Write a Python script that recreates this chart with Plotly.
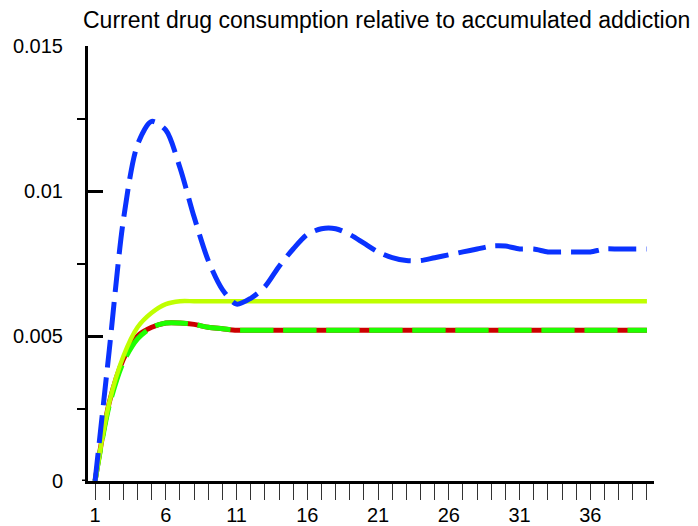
import plotly.graph_objects as go

periods = list(range(1, 41))

blue_series = [0.0, 0.0045, 0.0090, 0.0116, 0.0124, 0.0121, 0.0108, 0.0091, 0.0076, 0.0066,
               0.0061, 0.0063, 0.0067, 0.0074, 0.0080, 0.0085, 0.0087, 0.0087, 0.0085, 0.0082,
               0.0079, 0.0077, 0.0076, 0.0076, 0.0077, 0.0078, 0.0079, 0.0080, 0.0081, 0.0081,
               0.0080, 0.0080, 0.0079, 0.0079, 0.0079, 0.0079, 0.0080, 0.0080, 0.0080, 0.0080]

yellow_series = [0.0, 0.0027, 0.0043, 0.0053, 0.0058, 0.0061, 0.0062, 0.0062, 0.0062, 0.0062,
                 0.0062, 0.0062, 0.0062, 0.0062, 0.0062, 0.0062, 0.0062, 0.0062, 0.0062, 0.0062,
                 0.0062, 0.0062, 0.0062, 0.0062, 0.0062, 0.0062, 0.0062, 0.0062, 0.0062, 0.0062,
                 0.0062, 0.0062, 0.0062, 0.0062, 0.0062, 0.0062, 0.0062, 0.0062, 0.0062, 0.0062]

red_series = [0.0, 0.0027, 0.0042, 0.0050, 0.0053, 0.00545, 0.00545, 0.0054, 0.0053, 0.00525,
              0.0052, 0.0052, 0.0052, 0.0052, 0.0052, 0.0052, 0.0052, 0.0052, 0.0052, 0.0052,
              0.0052, 0.0052, 0.0052, 0.0052, 0.0052, 0.0052, 0.0052, 0.0052, 0.0052, 0.0052,
              0.0052, 0.0052, 0.0052, 0.0052, 0.0052, 0.0052, 0.0052, 0.0052, 0.0052, 0.0052]

green_series = [0.0, 0.0026, 0.0041, 0.0049, 0.0053, 0.00545, 0.00545, 0.0054, 0.0053, 0.00525,
                0.0052, 0.0052, 0.0052, 0.0052, 0.0052, 0.0052, 0.0052, 0.0052, 0.0052, 0.0052,
                0.0052, 0.0052, 0.0052, 0.0052, 0.0052, 0.0052, 0.0052, 0.0052, 0.0052, 0.0052,
                0.0052, 0.0052, 0.0052, 0.0052, 0.0052, 0.0052, 0.0052, 0.0052, 0.0052, 0.0052]

x_tick_text = [str(p) if (p - 1) % 5 == 0 else "" for p in periods]
y_tick_vals = [0, 0.005, 0.01, 0.015]
y_tick_text = ["0", "0.005", "0.01", "0.015"]

title_text = "Current drug consumption relative to accumulated addiction"

FONT = "Liberation Sans, Arial, sans-serif"

W, H = 698, 526

fig = go.Figure()
fig.add_trace(go.Scatter(x=periods, y=red_series, mode="lines",
                         line=dict(color="#CC0000", width=5, shape="spline", smoothing=0.8)))
fig.add_trace(go.Scatter(x=periods, y=green_series, mode="lines",
                         line=dict(color="#1EFF00", width=5, dash="33px,10px", shape="spline", smoothing=0.8)))
fig.add_trace(go.Scatter(x=periods, y=yellow_series, mode="lines",
                         line=dict(color="#BFFF00", width=4.5, shape="spline", smoothing=0.8)))
fig.add_trace(go.Scatter(x=periods, y=blue_series, mode="lines",
                         line=dict(color="#0A32FF", width=5, dash="28px,10px", shape="spline", smoothing=0.8)))

fig.update_layout(
    width=W, height=H,
    margin=dict(l=88, r=44, t=46, b=45, autoexpand=False),
    paper_bgcolor="white", plot_bgcolor="white",
    showlegend=False,
    font=dict(family=FONT, size=20, color="black"),
    title=dict(text=title_text, x=83 / W, xanchor="left", xref="container",
               y=1 - 20 / H, yanchor="middle", yref="container",
               pad=dict(l=0, r=0, t=0, b=0), automargin=False,
               font=dict(family=FONT, size=23, color="black")),
)

fig.update_xaxes(
    range=[0.5, 40.5], showgrid=False, zeroline=False, automargin=False,
    showline=True, linecolor="black", linewidth=3,
    tickmode="array", tickvals=periods, ticktext=x_tick_text,
    ticks="outside", ticklen=16, tickwidth=1, tickcolor="#333333",
    ticklabelstandoff=-2,
    tickfont=dict(family=FONT, size=20, color="black"),
)

fig.update_yaxes(
    range=[0, 0.015], showgrid=False, zeroline=False, automargin=False,
    showline=True, linecolor="black", linewidth=3,
    tickmode="array", tickvals=y_tick_vals, ticktext=y_tick_text,
    ticks="inside", ticklen=15, tickwidth=3, tickcolor="black",
    ticklabelstandoff=18,
    tickfont=dict(family=FONT, size=20, color="black"),
    minor=dict(tickmode="array", tickvals=[0.0025, 0.0075, 0.0125],
               ticks="outside", ticklen=8, tickwidth=2, tickcolor="black"),
)

fig.add_shape(type="line", xref="paper", yref="y", x0=-6 / 566, x1=0, y0=0, y1=0,
              line=dict(color="black", width=3))

fig.write_html(
    "out.html",
    config={"displayModeBar": False},
    post_script="document.body.style.margin='0';document.body.style.overflow='hidden';",
)
